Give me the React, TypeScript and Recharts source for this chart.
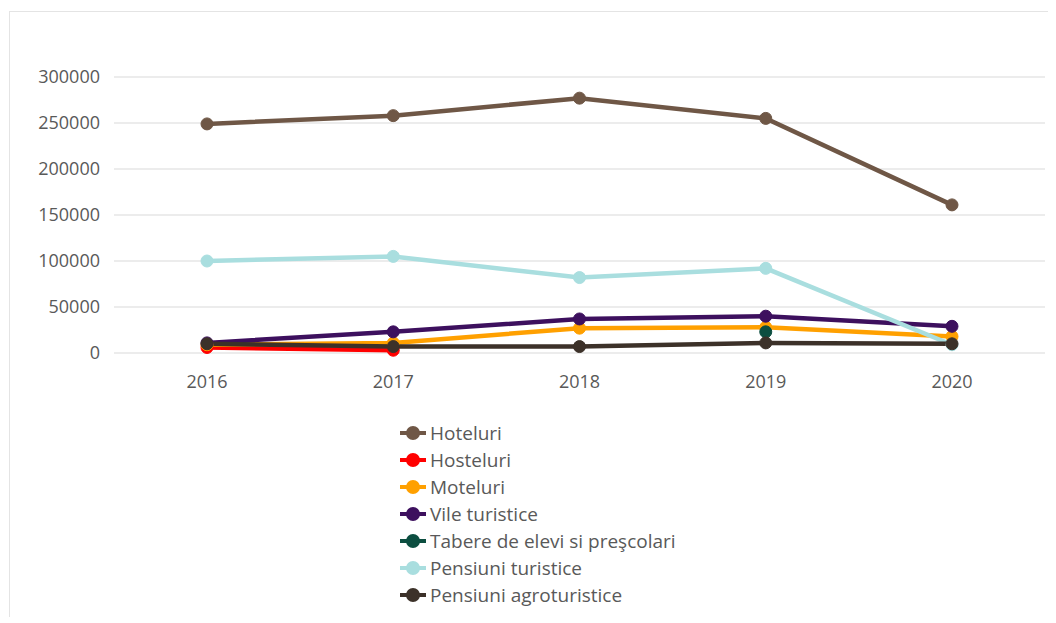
import React from 'react';
import { LineChart, Line, XAxis, YAxis, CartesianGrid } from 'recharts';

const years = ['2016', '2017', '2018', '2019', '2020'];

const hoteluri = [249000, 258000, 277000, 255000, 161000];
const hosteluri = [6000, 3000, null, null, null];
const moteluri = [9000, 11000, 27000, 28000, 18000];
const vile = [11000, 23000, 37000, 40000, 29000];
const tabere = [null, null, null, 23000, null];
const pensiuni = [100000, 105000, 82000, 92000, 9000];
const agro = [10000, 7000, 7000, 11000, 10000];

const yTicks = [0, 50000, 100000, 150000, 200000, 250000, 300000];

const series = [
  { key: 'hoteluri', name: 'Hoteluri', color: '#6f5746', values: hoteluri },
  { key: 'hosteluri', name: 'Hosteluri', color: '#ff0000', values: hosteluri },
  { key: 'moteluri', name: 'Moteluri', color: '#ffa000', values: moteluri },
  { key: 'vile', name: 'Vile turistice', color: '#3d105e', values: vile },
  { key: 'tabere', name: 'Tabere de elevi si preşcolari', color: '#0c4e40', values: tabere },
  { key: 'pensiuni', name: 'Pensiuni turistice', color: '#a9dedf', values: pensiuni },
  { key: 'agro', name: 'Pensiuni agroturistice', color: '#3c3129', values: agro },
];

const data = years.map((year, i) => {
  const row: Record<string, string | number | null> = { year };
  series.forEach((s) => {
    row[s.key] = s.values[i];
  });
  return row;
});

const font = '"Open Sans", sans-serif';

export default function App() {
  return (
    <div
      style={{
        position: 'relative',
        width: 1040,
        height: 605,
        marginLeft: 1,
        marginTop: 3,
        borderTop: '1px solid #e4e4e4',
        borderLeft: '1px solid #e4e4e4',
        fontFamily: font,
      }}
    >
      <LineChart width={1040} height={400} data={data} margin={{ top: 65, right: 5, bottom: 29, left: 0 }}>
        <CartesianGrid vertical={false} stroke="#d9d9d9" />
        <XAxis
          dataKey="year"
          padding={{ left: 93, right: 93 }}
          tickLine={false}
          axisLine={false}
          tickSize={0}
          tickMargin={22}
          height={30}
          tick={{ fill: '#595959', fontSize: 18, fontFamily: font }}
        />
        <YAxis
          domain={[0, 300000]}
          ticks={yTicks}
          width={104}
          tickLine={false}
          axisLine={false}
          tickSize={0}
          tickMargin={14}
          tick={{ fill: '#595959', fontSize: 18, fontFamily: font }}
        />
        {series.map((s) => (
          <Line
            key={s.key}
            dataKey={s.key}
            name={s.name}
            stroke={s.color}
            strokeWidth={4.5}
            dot={{ r: 6, fill: s.color, stroke: s.color, strokeWidth: 1 }}
            activeDot={false}
            connectNulls={false}
            isAnimationActive={false}
          />
        ))}
      </LineChart>
      <div style={{ position: 'absolute', left: 390, top: 407 }}>
        {series.map((s) => (
          <div key={s.key} style={{ display: 'flex', alignItems: 'center', height: 27 }}>
            <svg width={28} height={16} style={{ marginRight: 2 }}>
              <line x1={0} y1={8} x2={26} y2={8} stroke={s.color} strokeWidth={4} />
              <circle cx={13} cy={8} r={7} fill={s.color} />
            </svg>
            <span style={{ fontSize: 19, color: '#595959', whiteSpace: 'nowrap' }}>{s.name}</span>
          </div>
        ))}
      </div>
    </div>
  );
}
